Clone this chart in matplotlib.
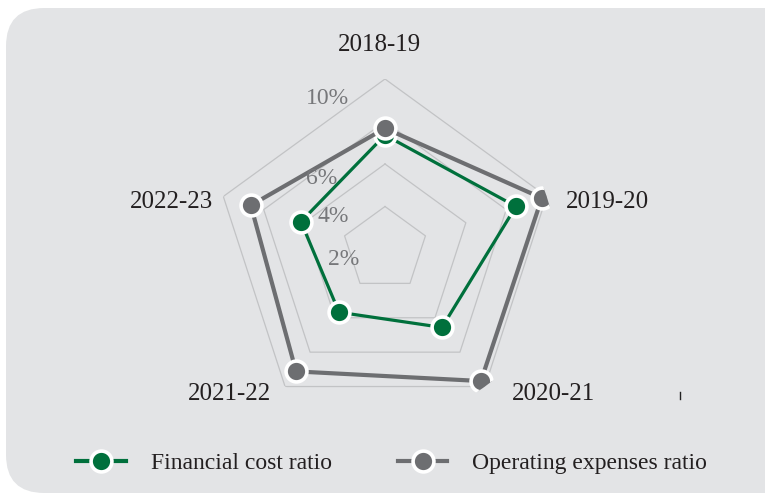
import numpy as np
import matplotlib
matplotlib.use("Agg")
import matplotlib.pyplot as plt
from matplotlib.patches import FancyBboxPatch
from matplotlib.lines import Line2D

years = ["2018-19", "2019-20", "2020-21", "2021-22", "2022-23"]
financial_cost = [6.7, 8.1, 5.7, 4.6, 5.2]
operating_exp = [7.1, 9.7, 9.6, 8.9, 8.3]
ring_levels = [2.5, 5.0, 7.5, 10.0]
tick_labels = ["2%", "4%", "6%", "10%"]

GREEN = "#00703c"
GRAY = "#6d6e71"
BG = "#e3e4e6"

plt.rcParams["font.family"] = ["Liberation Serif", "DejaVu Serif"]

fig = plt.figure(figsize=(7.65, 4.93), dpi=100)
fig.patch.set_facecolor("white")

# rounded grey panel behind everything
panel = FancyBboxPatch((6 / 765, 0.0), 1.2, (485 / 493), boxstyle="round,pad=0,rounding_size=0.05",
                       transform=fig.transFigure, facecolor=BG, edgecolor="none", zorder=-5,
                       mutation_aspect=765 / 493)
fig.patches.append(panel)

ax = fig.add_axes([215 / 765, 74 / 493, 340 / 765, 340 / 493], projection="polar")
ax.set_facecolor("none")
ax.set_theta_zero_location("N")
ax.set_theta_direction(-1)
ax.set_ylim(0, 10)
ax.grid(False)
ax.spines["polar"].set_visible(False)
ax.set_xticks([])
ax.set_yticks([])

angles = np.linspace(0, 2 * np.pi, len(years), endpoint=False)
closed = np.append(angles, angles[0])

for lv in ring_levels:
    ax.plot(closed, [lv] * len(closed), color="#c2c3c5", lw=0.9, zorder=1)

ax.plot(closed, financial_cost + financial_cost[:1], color=GREEN, lw=2.3, zorder=2)
ax.plot(angles, financial_cost, "o", color=GREEN, ms=15, mec="white", mew=2.6, zorder=3)
ax.plot(closed, operating_exp + operating_exp[:1], color=GRAY, lw=3.0, zorder=4)
ax.plot(angles, operating_exp, "o", color=GRAY, ms=15, mec="white", mew=2.6, zorder=5)

# percentage labels, placed as in the original
tick_pos = [(0.378, 0.470), (0.348, 0.597), (0.314, 0.708), (0.330, 0.943)]
for lab, (x, y) in zip(tick_labels, tick_pos):
    ax.text(x, y, lab, transform=ax.transAxes, ha="center", va="center",
            fontsize=17, color="#76777a", zorder=6)

# category labels
cat_pos = [(0.485, 1.10, "center"), (1.032, 0.638, "left"), (0.997, 0.074, "center"),
           (0.044, 0.074, "center"), (-0.006, 0.638, "right")]
for lab, (x, y, ha) in zip(years, cat_pos):
    ax.text(x, y, lab, transform=ax.transAxes, ha=ha, va="center",
            fontsize=18, color="#231f20")

fig.add_artist(Line2D([680 / 765, 680 / 765], [1 - 392 / 493, 1 - 399 / 493], color="#222222", lw=1))

handles = [
    Line2D([0], [0], color=GREEN, lw=3, marker="o", ms=15, mfc=GREEN, mec="white", mew=2.6),
    Line2D([0], [0], color=GRAY, lw=3, marker="o", ms=15, mfc=GRAY, mec="white", mew=2.6),
]
fig.legend(handles, ["Financial cost ratio", "Operating expenses ratio"], loc="center left",
           bbox_to_anchor=(55 / 765, 1 - 463 / 493), ncol=2, frameon=False, fontsize=17,
           handlelength=2.1, handletextpad=1.05, columnspacing=2.8, labelcolor="#231f20")

fig.savefig("out.png", dpi=100, facecolor=fig.get_facecolor())
